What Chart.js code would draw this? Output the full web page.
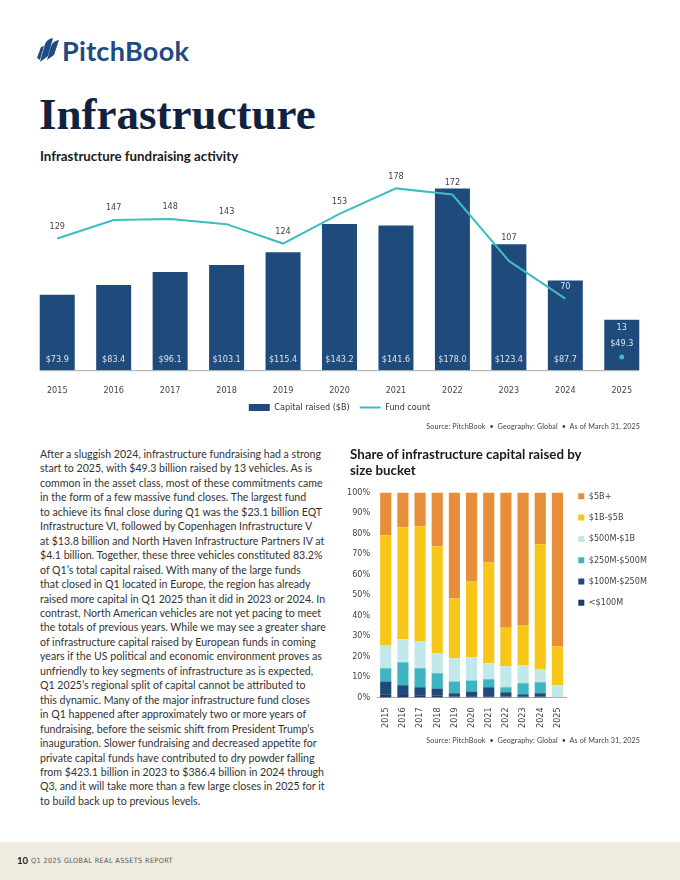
<!DOCTYPE html>
<html>
<head>
<meta charset="utf-8">
<script src="https://cdn.jsdelivr.net/npm/chart.js@4.4.1/dist/chart.umd.min.js"></script>
<style>
  html, body { margin: 0; padding: 0; }
  body { width: 680px; height: 880px; position: relative; background: #fff; overflow: hidden;
         font-family: Lato, 'Open Sans', sans-serif; color: #333; }
  .abs { position: absolute; }
  #logo { left: 37px; top: 36px; height: 28px; display: flex; align-items: center; }
  #logo span { font-weight: 700; font-size: 27px; color: #1e4b82; letter-spacing: 0.3px; margin-left: 3px; }
  #title { left: 39px; top: 88px; font-family: 'Liberation Serif', 'DejaVu Serif', serif; font-weight: 700;
           font-size: 45px; color: #0f2341; }
  .subhead { font-weight: 700; color: #1a1a1a; }
  #sub1 { left: 40px; top: 148px; font-size: 13.3px; }
  #sub2 { left: 350px; top: 447px; line-height: 15.5px; font-size: 13.3px; }
  .source { font-size: 7.2px; color: #444; right: 40px; letter-spacing: 0.1px; }
  #src1 { top: 422px; }
  #src2 { top: 736px; }
  #body { left: 40px; top: 447px; font-size: 10.6px; line-height: 14.46px; color: #333; }
  #body div { white-space: nowrap; }
  #footer { left: 0; top: 842px; width: 680px; height: 38px; background: #f0ebe1; }
  #footer .pg { position: absolute; left: 17px; top: 13px; font-size: 9.5px; font-weight: 700; color: #222; }
  #footer .rp { position: absolute; left: 31px; top: 14px; color: #555; letter-spacing: 0.4px;
                font-family: 'DejaVu Sans Condensed', sans-serif; font-size: 7.2px; }
  #c1wrap { left: 20px; top: 160px; width: 640px; height: 280px; }
  #c2wrap { left: 340px; top: 480px; width: 310px; height: 258px; }
</style>
</head>
<body>
<div id="logo" class="abs">
  <svg width="22" height="24" viewBox="0 0 22 24">
    <path d="M3 24 L8 6 Q10 1 16 0 L11 18 Z" fill="#1e4b82"/>
    <path d="M10 22 L14 8 Q16 3 22 2 L17 17 Z" fill="#1e4b82"/>
    <path d="M0 20 L4 9 L7 8 L3 22 Z" fill="#1e4b82"/>
  </svg>
  <span>PitchBook</span>
</div>
<div id="title" class="abs">Infrastructure</div>
<div id="sub1" class="abs subhead">Infrastructure fundraising activity</div>
<div id="c1wrap" class="abs"><canvas id="fundChart"></canvas></div>
<div id="src1" class="abs source">Source: PitchBook &nbsp;•&nbsp; Geography: Global &nbsp;•&nbsp; As of March 31, 2025</div>

<div id="body" class="abs">
  <div>After a sluggish 2024, infrastructure fundraising had a strong</div>
  <div>start to 2025, with $49.3 billion raised by 13 vehicles. As is</div>
  <div>common in the asset class, most of these commitments came</div>
  <div>in the form of a few massive fund closes. The largest fund</div>
  <div>to achieve its final close during Q1 was the $23.1 billion EQT</div>
  <div>Infrastructure VI, followed by Copenhagen Infrastructure V</div>
  <div>at $13.8 billion and North Haven Infrastructure Partners IV at</div>
  <div>$4.1 billion. Together, these three vehicles constituted 83.2%</div>
  <div>of Q1’s total capital raised. With many of the large funds</div>
  <div>that closed in Q1 located in Europe, the region has already</div>
  <div>raised more capital in Q1 2025 than it did in 2023 or 2024. In</div>
  <div>contrast, North American vehicles are not yet pacing to meet</div>
  <div>the totals of previous years. While we may see a greater share</div>
  <div>of infrastructure capital raised by European funds in coming</div>
  <div>years if the US political and economic environment proves as</div>
  <div>unfriendly to key segments of infrastructure as is expected,</div>
  <div>Q1 2025’s regional split of capital cannot be attributed to</div>
  <div>this dynamic. Many of the major infrastructure fund closes</div>
  <div>in Q1 happened after approximately two or more years of</div>
  <div>fundraising, before the seismic shift from President Trump’s</div>
  <div>inauguration. Slower fundraising and decreased appetite for</div>
  <div>private capital funds have contributed to dry powder falling</div>
  <div>from $423.1 billion in 2023 to $386.4 billion in 2024 through</div>
  <div>Q3, and it will take more than a few large closes in 2025 for it</div>
  <div>to build back up to previous levels.</div>
</div>

<div id="sub2" class="abs subhead">Share of infrastructure capital raised by<br>size bucket</div>
<div id="c2wrap" class="abs"><canvas id="shareChart"></canvas></div>
<div id="src2" class="abs source">Source: PitchBook &nbsp;•&nbsp; Geography: Global &nbsp;•&nbsp; As of March 31, 2025</div>

<div id="footer" class="abs"><span class="pg">10</span><span class="rp">Q1 2025 GLOBAL REAL ASSETS REPORT</span></div>

<script>
const years = ['2015', '2016', '2017', '2018', '2019', '2020', '2021', '2022', '2023', '2024', '2025'];

// fundraising activity
const capitalRaised = [73.9, 83.4, 96.1, 103.1, 115.4, 143.2, 141.6, 178.0, 123.4, 87.7, 49.3];
const fundCount = [129, 147, 148, 143, 124, 153, 178, 172, 107, 70, 13];

// share of capital by size bucket (%), bottom to top
const shareUnder100M = [1.5, 1.2, 1.0, 0.8, 0.4, 0.5, 0.6, 0.4, 0.3, 0.4, 0];
const share100to250M = [6.3, 4.7, 3.9, 3.6, 1.6, 2.4, 4.3, 2.1, 1.2, 1.6, 0];
const share250to500M = [6.4, 11.3, 9.3, 7.4, 5.8, 5.4, 3.9, 2.4, 5.4, 5.4, 0];
const share500Mto1B = [11.3, 11.2, 13.3, 9.8, 11.3, 11.3, 7.9, 10.3, 8.8, 6.3, 5.9];
const share1Bto5B = [53.6, 54.6, 56.0, 52.1, 29.1, 36.9, 49.1, 19.1, 19.6, 61.0, 19.1];
const share5BPlus = [20.9, 17.0, 16.5, 26.3, 51.8, 43.5, 34.2, 65.7, 64.7, 25.3, 75.0];

const NAVY = '#1f4b7c';
const TEAL = '#3dbcc4';
const narrow = "'DejaVu Sans Condensed', 'Liberation Sans', sans-serif";

Chart.defaults.font.family = narrow;
Chart.defaults.color = '#444';

// moves a legend box up by a few pixels after layout
const nudgeLegend = (px) => ({
  id: 'legendNudge',
  afterLayout(chart) {
    chart.legend.top -= px;
    chart.legend.bottom -= px;
  }
});

const fundLabels = {
  id: 'fundLabels',
  beforeDatasetsDraw(chart) {
    const bars = chart.getDatasetMeta(0).data;
    const base = chart.scales.y.getPixelForValue(0);
    const first = bars[0], last = bars[bars.length - 1];
    const ctx = chart.ctx;
    ctx.save();
    ctx.strokeStyle = '#a9a9a9';
    ctx.lineWidth = 1;
    ctx.beginPath();
    ctx.moveTo(first.x - first.width / 2, base + 0.5);
    ctx.lineTo(last.x + last.width / 2, base + 0.5);
    ctx.stroke();
    ctx.restore();
  },
  afterDatasetsDraw(chart) {
    const ctx = chart.ctx;
    const bars = chart.getDatasetMeta(0).data;
    const pts = chart.getDatasetMeta(1).data;
    const base = chart.scales.y.getPixelForValue(0);
    ctx.save();
    ctx.font = '9px ' + narrow;
    ctx.textAlign = 'center';
    ctx.textBaseline = 'middle';
    bars.forEach((bar, i) => {
      const p = pts[i];
      let by = base - 11;
      if (p.y > by - 14) by = p.y - 13;
      ctx.fillStyle = '#d9e3ee';
      ctx.fillText('$' + capitalRaised[i].toFixed(1), bar.x, by);
      let cy = p.y - 12;
      if (cy > by - 12) cy = by - 16;
      if (Math.abs(cy - bar.y) < 6) cy = bar.y - 6;
      ctx.fillStyle = (cy - 5 > bar.y) ? '#d9e3ee' : '#444';
      ctx.fillText(String(fundCount[i]), p.x, cy);
    });
    ctx.restore();
  }
};

new Chart(document.getElementById('fundChart'), {
  type: 'bar',
  data: {
    labels: years,
    datasets: [{
      label: 'Capital raised ($B)',
      data: capitalRaised,
      backgroundColor: NAVY,
      borderWidth: 0,
      barPercentage: 0.62,
      categoryPercentage: 1,
      order: 1
    }, {
      type: 'line',
      label: 'Fund count',
      data: fundCount,
      borderColor: TEAL,
      backgroundColor: TEAL,
      borderWidth: 2,
      pointRadius: fundCount.map((v, i) => i === fundCount.length - 1 ? 2.5 : 0),
      pointBackgroundColor: TEAL,
      pointBorderWidth: 0,
      tension: 0,
      segment: {
        borderColor: c => c.p1DataIndex === fundCount.length - 1 ? 'rgba(0,0,0,0)' : TEAL
      },
      order: 0
    }]
  },
  options: {
    responsive: true,
    maintainAspectRatio: false,
    animation: false,
    layout: { padding: { left: 9, right: 10, top: 10, bottom: 0 } },
    plugins: {
      legend: {
        position: 'bottom',
        labels: {
          usePointStyle: true,
          pointStyleWidth: 21,
          boxHeight: 7,
          padding: 10,
          color: '#333',
          font: { size: 9 },
          sort: (a, b) => a.datasetIndex - b.datasetIndex,
          generateLabels(chart) {
            const items = Chart.defaults.plugins.legend.labels.generateLabels(chart);
            items.forEach(it => {
              if (it.datasetIndex === 1) {
                it.pointStyle = 'line';
                it.strokeStyle = TEAL;
                it.lineWidth = 2;
              } else {
                it.pointStyle = 'rect';
                it.fillStyle = NAVY;
                it.lineWidth = 0;
              }
            });
            return items;
          }
        }
      },
      tooltip: { enabled: false }
    },
    scales: {
      x: {
        grid: { display: false, drawTicks: false },
        border: { display: false },
        ticks: { color: '#444', font: { size: 9 }, padding: 15 }
      },
      y: { display: false, min: 0, max: 196 }
    }
  },
  plugins: [fundLabels, nudgeLegend(18)]
});

new Chart(document.getElementById('shareChart'), {
  type: 'bar',
  data: {
    labels: years,
    datasets: [
      { label: '<$100M', data: shareUnder100M, backgroundColor: '#1a3d66' },
      { label: '$100M-$250M', data: share100to250M, backgroundColor: '#1f4b7c' },
      { label: '$250M-$500M', data: share250to500M, backgroundColor: '#3fb6bf' },
      { label: '$500M-$1B', data: share500Mto1B, backgroundColor: '#c3e8ea' },
      { label: '$1B-$5B', data: share1Bto5B, backgroundColor: '#f6c619' },
      { label: '$5B+', data: share5BPlus, backgroundColor: '#e78e3a' }
    ].map(d => Object.assign(d, { borderWidth: 0, barPercentage: 0.65, categoryPercentage: 1 }))
  },
  options: {
    responsive: true,
    maintainAspectRatio: false,
    animation: false,
    layout: { padding: { left: 0, right: 0, top: 3, bottom: 0 } },
    plugins: {
      legend: {
        position: 'right',
        align: 'start',
        reverse: true,
        maxWidth: 84,
        labels: { boxWidth: 6, boxHeight: 6, padding: 12.3, color: '#444', font: { size: 9 } }
      },
      tooltip: { enabled: false }
    },
    scales: {
      x: {
        stacked: true,
        grid: { display: false, drawTicks: false },
        border: { display: true, color: '#a9a9a9' },
        ticks: { color: '#444', font: { size: 9 }, minRotation: 90, maxRotation: 90, padding: 10 }
      },
      y: {
        stacked: true,
        min: 0,
        max: 100,
        grid: { display: false, drawTicks: false },
        border: { display: false },
        ticks: { stepSize: 10, color: '#444', font: { size: 9 }, padding: 7, callback: v => v + '%' }
      }
    }
  },
  plugins: [nudgeLegend(3.5)]
});
</script>
</body>
</html>
